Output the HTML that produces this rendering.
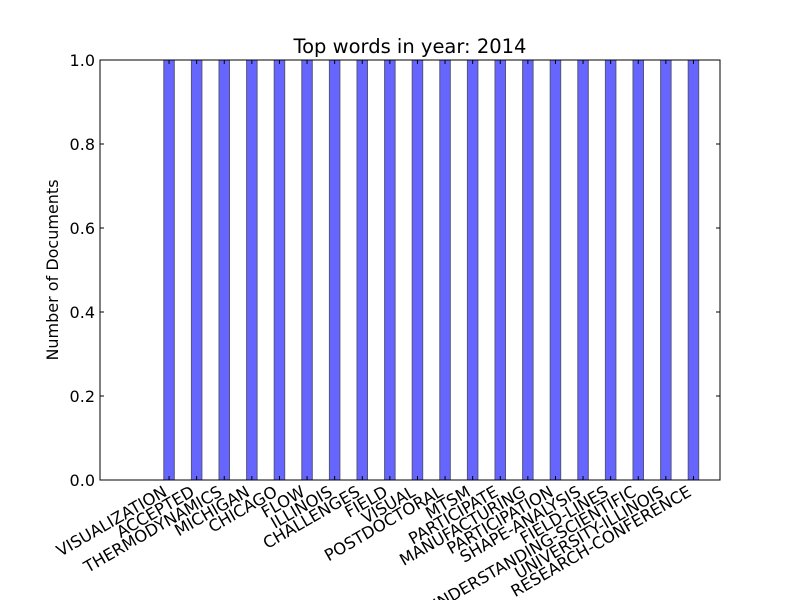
<!DOCTYPE html>
<html><head><meta charset="utf-8"><style>
body{margin:0;background:#fff}
svg{display:block;font-family:"DejaVu Sans","Liberation Sans",sans-serif}
</style></head><body>
<svg id="chart" width="800" height="600">
<rect x="0" y="0" width="800" height="600" fill="#fff"/>
<text x="410" y="53" font-size="19.5" text-anchor="middle">Top words in year: 2014</text>
<text transform="translate(58,270) rotate(-90)" font-size="16" text-anchor="middle">Number of Documents</text>
<g id="bars"></g>
<g id="axes"></g>
</svg>
<script>
const categories=["VISUALIZATION","ACCEPTED","THERMODYNAMICS","MICHIGAN","CHICAGO","FLOW","ILLINOIS","CHALLENGES","FIELD","VISUAL","POSTDOCTORAL","MTSM","PARTICIPATE","MANUFACTURING","PARTICIPATION","SHAPE-ANALYSIS","FIELD-LINES","UNDERSTANDING-SCIENTIFIC","UNIVERSITY-ILLINOIS","RESEARCH-CONFERENCE"];
const values=[1,1,1,1,1,1,1,1,1,1,1,1,1,1,1,1,1,1,1,1];
const yTicks=[0,0.2,0.4,0.6,0.8,1.0];
const yTickLabels=["0.0","0.2","0.4","0.6","0.8","1.0"];
const NS="http://www.w3.org/2000/svg";
const L=100,R=720,T=60,B=480;
function y(v){return B-(v-0)/(1-0)*(B-T);}
function x(i){return 163.8+i*27.6;}
const bw=10.5;
const bars=document.getElementById('bars'),axes=document.getElementById('axes');
function mk(tag,a,p){const e=document.createElementNS(NS,tag);for(const k in a)e.setAttribute(k,a[k]);p.appendChild(e);return e;}
values.forEach((v,i)=>{
 const r=mk('rect',{x:x(i),y:y(v),width:bw,height:y(0)-y(v),fill:'#6666ff',stroke:'#55557a','stroke-width':1},bars);
 
 
 const cx=x(i)+bw/2;
 mk('line',{x1:cx,x2:cx,y1:B,y2:B-4,stroke:'#000'},axes);
 mk('line',{x1:cx,x2:cx,y1:T,y2:T+4,stroke:'#000'},axes);
 const t=mk('text',{x:0,y:0,'font-size':16.3,'text-anchor':'end',transform:`translate(${cx-1},${B+15}) rotate(-30)`},axes);
 t.textContent=categories[i];
 
 
});
yTicks.forEach((v,i)=>{
 mk('line',{x1:L,x2:L+4,y1:y(v),y2:y(v),stroke:'#000'},axes);
 mk('line',{x1:R,x2:R-4,y1:y(v),y2:y(v),stroke:'#000'},axes);
 const t=mk('text',{x:L-5,y:y(v)+6,'font-size':16,'text-anchor':'end'},axes);
 t.textContent=yTickLabels[i];
 
 
});
const f=mk('rect',{x:L,y:T,width:R-L,height:B-T,fill:'none',stroke:'#000','stroke-width':1},axes);


</script>
</body></html>
